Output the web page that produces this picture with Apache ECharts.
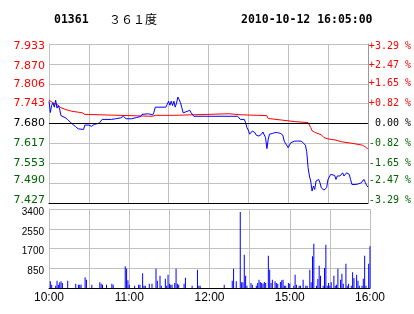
<!DOCTYPE html>
<html><head><meta charset="utf-8">
<script src="https://cdn.jsdelivr.net/npm/echarts@6/dist/echarts.min.js"></script>
<style>html,body{margin:0;padding:0;background:#fff}#c{width:414px;height:314px}</style>
</head><body><div id="c"></div>
<script>
// ---- data (minute offsets in trading time from 10:00; 150 = 12:30 / 14:30) ----
const stockCode = '01361';
const stockName = '３６１度';
const stamp = '2010-10-12 16:05:00';
const prevClose = 7.680;
const priceTicks = ['7.427','7.490','7.553','7.617','7.680','7.743','7.806','7.870','7.933'];
const pctTicks = ['-3.29 %','-2.47 %','-1.65 %','-0.82 %',' 0.00 %','+0.82 %','+1.65 %','+2.47 %','+3.29 %'];
const volTicks = ['', '850', '1700', '2550', '3400'];
const timeTicks = ['10:00','','11:00','','12:00','','15:00','','16:00'];

const pricePts = [[0,7.750],[1,7.715],[2,7.738],[3,7.745],[4,7.732],[5,7.754],[6,7.729],[7,7.737],[8,7.726],[9,7.705],[10,7.702],[12,7.699],[14,7.693],[16,7.684],[18,7.677],[20,7.670],[22,7.663],[23,7.661],[26,7.661],[27,7.675],[28,7.678],[30,7.675],[32,7.671],[34,7.677],[36,7.679],[38,7.682],[40,7.693],[47,7.693],[50,7.695],[54,7.698],[56,7.703],[57,7.708],[58,7.695],[62,7.695],[66,7.699],[69,7.702],[70,7.709],[71,7.711],[75,7.711],[76,7.705],[78,7.707],[79,7.716],[80,7.732],[88,7.732],[89,7.741],[90,7.751],[91,7.738],[92,7.751],[93,7.737],[94,7.751],[95,7.732],[96,7.745],[97,7.764],[98,7.756],[99,7.746],[100,7.730],[101,7.714],[103,7.717],[104,7.719],[106,7.722],[107,7.714],[109,7.703],[142,7.703],[143,7.697],[144,7.693],[147,7.693],[148,7.682],[149,7.667],[150,7.659],[151,7.646],[152,7.651],[153,7.656],[155,7.651],[156,7.643],[157,7.649],[158,7.640],[160,7.646],[161,7.653],[162,7.653],[163,7.635],[164,7.600],[165,7.630],[166,7.646],[167,7.651],[168,7.648],[170,7.651],[171,7.648],[172,7.651],[174,7.649],[175,7.653],[176,7.643],[177,7.624],[178,7.619],[180,7.603],[181,7.608],[182,7.619],[183,7.614],[185,7.624],[186,7.630],[187,7.624],[190,7.624],[191,7.619],[193,7.611],[194,7.590],[195,7.540],[196,7.513],[197,7.497],[198,7.465],[199,7.481],[200,7.470],[201,7.497],[202,7.493],[203,7.502],[204,7.491],[205,7.475],[206,7.470],[207,7.468],[208,7.468],[209,7.476],[210,7.502],[211,7.497],[212,7.518],[213,7.521],[215,7.515],[216,7.502],[217,7.513],[218,7.518],[219,7.513],[221,7.523],[222,7.513],[223,7.518],[224,7.523],[226,7.518],[227,7.502],[228,7.486],[229,7.481],[231,7.486],[232,7.481],[233,7.488],[234,7.486],[235,7.491],[237,7.502],[238,7.493],[239,7.484],[240,7.478]];

const avgPts = [[0,7.754],[3,7.746],[5,7.742],[7,7.738],[9,7.730],[13,7.724],[17,7.719],[22,7.716],[25,7.714],[27,7.709],[28,7.703],[78,7.703],[80,7.706],[94,7.706],[95,7.711],[136,7.711],[137,7.708],[143,7.708],[144,7.705],[164,7.705],[165,7.696],[175,7.691],[185,7.686],[195,7.683],[196,7.678],[197,7.667],[198,7.657],[200,7.652],[205,7.644],[207,7.635],[210,7.631],[216,7.627],[220,7.622],[228,7.617],[236,7.611],[238,7.606],[240,7.599]];

const volPts = [[1,286],[2,143],[5,100],[6,315],[7,143],[8,244],[9,286],[10,215],[14,315],[20,186],[22,143],[23,143],[24,143],[27,459],[28,358],[32,143],[38,244],[39,186],[40,143],[43,143],[47,186],[48,143],[57,932],[58,831],[59,330],[60,143],[64,100],[67,143],[68,143],[70,631],[71,100],[72,100],[75,186],[77,186],[80,831],[81,315],[83,530],[84,100],[87,401],[88,100],[89,573],[90,186],[91,143],[92,143],[94,215],[95,831],[96,186],[97,143],[101,186],[102,444],[107,100],[111,788],[112,100],[113,100],[131,143],[137,315],[138,831],[140,287],[143,3270],[144,244],[145,244],[146,1433],[147,530],[148,100],[151,215],[152,143],[155,100],[156,215],[157,358],[158,258],[159,215],[160,186],[161,258],[162,215],[164,1390],[165,788],[166,215],[167,358],[169,287],[170,215],[171,186],[173,258],[174,330],[175,358],[176,100],[177,100],[179,215],[180,186],[183,100],[184,573],[185,143],[187,100],[188,100],[190,358],[192,100],[193,100],[195,788],[196,244],[197,1362],[198,1906],[200,100],[201,387],[202,960],[203,530],[205,100],[206,860],[207,1863],[208,100],[209,215],[210,100],[211,244],[213,530],[214,100],[215,143],[216,831],[218,358],[219,616],[220,186],[222,1046],[223,100],[224,186],[226,100],[227,674],[228,430],[230,573],[231,315],[232,100],[234,100],[235,401],[236,1390],[237,100],[239,1046],[240,1792]];

// ---- chart ----
const pMin = +priceTicks[0], pMax = +priceTicks[priceTicks.length - 1];
const pInt = (pMax - pMin) / (priceTicks.length - 1);
const vMax = +volTicks[volTicks.length - 1];
const vInt = vMax / (volTicks.length - 1);
const idxOf = v => Math.round((v - pMin) / pInt);
const mid = (priceTicks.length - 1) / 2;
const sideColor = i => i > mid ? '#ff0000' : (i < mid ? '#006400' : '#000000');
const GRID = '#c0c0c0';
// label nudges near the panel edges (as in the reference)
const edgeTag = i => i <= 1 ? 'u' : (i >= priceTicks.length - 2 ? 'd' : 'n');
const edgeRich = {u: {padding: [0, 0, 5, 0]}, d: {padding: [4, 0, 0, 0]}, n: {}};

const chart = echarts.init(document.getElementById('c'), null, {renderer: 'canvas'});
chart.setOption({
  animation: false,
  backgroundColor: '#ffffff',
  title: [
    {text: stockCode, left: 49, top: 9, textStyle: {fontFamily: 'DejaVu Sans Mono', fontWeight: 'bold', fontSize: 11.5, color: '#000'}},
    {text: stockName, left: 104, top: 8, textStyle: {fontFamily: 'Noto Sans CJK SC', fontWeight: 'normal', fontSize: 12, color: '#000'}},
    {text: stamp, left: 236, top: 9, textStyle: {fontFamily: 'DejaVu Sans Mono', fontWeight: 'bold', fontSize: 11.5, color: '#000'}}
  ],
  grid: [
    {left: 49, top: 44, width: 321, height: 159},
    {left: 49, top: 209, width: 321, height: 79}
  ],
  xAxis: [
    {type: 'value', gridIndex: 0, min: 0, max: 240, interval: 30,
     axisLine: {show: true, lineStyle: {color: '#000', width: 1}}, axisTick: {show: false},
     axisLabel: {show: false}, splitLine: {show: true, lineStyle: {color: GRID, width: 1}}},
    {type: 'value', gridIndex: 1, min: 0, max: 240, interval: 30,
     axisLine: {show: true, lineStyle: {color: '#000', width: 1}}, axisTick: {show: false},
     axisLabel: {show: true, margin: 4, fontFamily: 'Liberation Sans', fontSize: 12, color: '#000',
       formatter: v => timeTicks[Math.round(v / 30)] || ''},
     splitLine: {show: true, lineStyle: {color: GRID, width: 1}}}
  ],
  yAxis: [
    {type: 'value', gridIndex: 0, position: 'left', min: pMin, max: pMax, interval: pInt,
     axisLine: {show: true, lineStyle: {color: GRID}}, axisTick: {show: false},
     axisLabel: {margin: 4, fontFamily: 'DejaVu Sans', fontSize: 11,
       formatter: v => { const i = idxOf(v); return '{' + edgeTag(i) + '|' + priceTicks[i] + '}'; },
       rich: edgeRich,
       color: v => sideColor(idxOf(v))},
     splitLine: {show: true, lineStyle: {color: GRID, width: 1}}},
    {type: 'value', gridIndex: 0, position: 'right', min: pMin, max: pMax, interval: pInt,
     axisLine: {show: true, lineStyle: {color: '#999'}}, axisTick: {show: false},
     axisLabel: {margin: 1, fontFamily: 'DejaVu Sans Mono', fontSize: 10,
       formatter: v => { const i = idxOf(v); return '{' + edgeTag(i) + '|' + pctTicks[i] + '}'; },
       rich: edgeRich,
       color: v => sideColor(idxOf(v))},
     splitLine: {show: false}},
    {type: 'value', gridIndex: 1, min: 0, max: vMax, interval: vInt,
     axisLine: {show: true, lineStyle: {color: GRID}}, axisTick: {show: false},
     axisLabel: {margin: 5, fontFamily: 'Liberation Sans', fontSize: 10, color: '#000',
       formatter: v => { const t = volTicks[Math.round(v / vInt)]; return t ? '{d|' + t + '}' : ''; },
       rich: {d: {padding: [6, 0, 0, 0]}}},
     splitLine: {show: true, lineStyle: {color: GRID, width: 1}}}
  ],
  series: [
    {type: 'line', xAxisIndex: 0, yAxisIndex: 0, data: avgPts, showSymbol: false, symbol: 'none',
     lineStyle: {color: '#ff0000', width: 1}, z: 3},
    {type: 'line', xAxisIndex: 0, yAxisIndex: 0, data: pricePts, showSymbol: false, symbol: 'none',
     lineStyle: {color: '#0000ff', width: 1}, z: 4,
     markLine: {silent: true, symbol: 'none', label: {show: false},
       lineStyle: {color: '#000', type: 'solid', width: 1},
       data: [{yAxis: prevClose}]}},
    {type: 'bar', xAxisIndex: 1, yAxisIndex: 2, data: volPts, barWidth: 1,
     itemStyle: {color: '#0000ff'}}
  ]
});
</script></body></html>
